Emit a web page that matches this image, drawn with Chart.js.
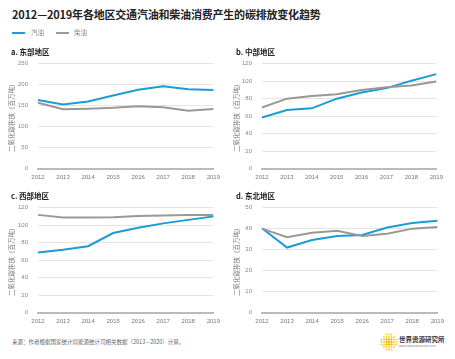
<!DOCTYPE html>
<html><head><meta charset="utf-8">
<script src="https://cdn.jsdelivr.net/npm/chart.js@4/dist/chart.umd.min.js"></script>
<style>
body{margin:0;width:455px;height:359px;background:#fff;font-family:"Noto Sans CJK SC","Noto Sans",sans-serif;position:relative;overflow:hidden}
.t{position:absolute;white-space:nowrap;color:#222}
.box{position:absolute}
</style></head><body>
<div class="box" style="left:8px;top:50px;width:217px;height:136px"><canvas id="ca"></canvas></div>
<div class="box" style="left:233px;top:50px;width:215px;height:136px"><canvas id="cb"></canvas></div>
<div class="box" style="left:8px;top:194px;width:217px;height:136px"><canvas id="cc"></canvas></div>
<div class="box" style="left:233px;top:194px;width:216px;height:136px"><canvas id="cd"></canvas></div>
<div class="t" style="left:12px;top:6px;font-size:11px;font-weight:bold;letter-spacing:-0.2px">2012—2019年各地区交通汽油和柴油消费产生的碳排放变化趋势</div>
<div class="box" style="left:12px;top:32px;width:13px;height:2px;background:#1b9bd7"></div>
<div class="t" style="left:31px;top:27px;font-size:6.5px;color:#888">汽油</div>
<div class="box" style="left:56px;top:32px;width:13px;height:1.5px;background:#999"></div>
<div class="t" style="left:74px;top:27px;font-size:6.5px;color:#888">柴油</div>
<div class="t" style="left:11px;top:46px;font-size:7.5px;font-weight:bold">a. 东部地区</div>
<div class="t" style="left:236px;top:46px;font-size:7.5px;font-weight:bold">b. 中部地区</div>
<div class="t" style="left:11px;top:190px;font-size:7.5px;font-weight:bold">c. 西部地区</div>
<div class="t" style="left:236px;top:190px;font-size:7.5px;font-weight:bold">d. 东北地区</div>
<div class="t" style="left:12px;top:338px;font-size:5.5px;color:#666">来源：作者根据国家统计局能源统计司相关数据（2013—2020）计算。</div>
<svg class="box" style="left:380px;top:333px" width="18" height="18" viewBox="0 0 18 18" id="logo"></svg>
<div class="t" style="left:399px;top:334px;font-size:6.5px;font-weight:bold;color:#333">世界资源研究所</div>
<div class="t" style="left:399px;top:344px;font-size:2.5px;color:#777">WORLD RESOURCES INSTITUTE</div>
<script>
(function(){const s=document.getElementById('logo');let h='';for(let i=0;i<7;i++)for(let j=0;j<7;j++){const x=1.5+i*2.5,y=1.5+j*2.5;const d=Math.hypot(x-9,y-9);if(d<8.6){h+=`<circle cx="${x}" cy="${y}" r="${d<4?1.15:0.95}" fill="${d<4?'#f5b800':'#f9cf3a'}"/>`;}}s.innerHTML=h;})();

const years = ['2012','2013','2014','2015','2016','2017','2018','2019'];
const eastGasoline = [163.5,153,160,174,188,196,189,187];
const eastDiesel   = [157,141.5,143,145,148.5,146,138,142];
const centralGasoline = [58.5,67,69,80,87,92,100.5,108];
const centralDiesel   = [70,80,83,85,90,93,95,99.5];
const westGasoline = [68.7,71.8,76,91,97,102,106,110];
const westDiesel   = [111.7,108.6,108.6,109,110.5,111,111.5,111.7];
const northeastGasoline = [40.2,31,34.6,36.5,37,40.5,42.7,43.8];
const northeastDiesel   = [40,35.9,38,39,36.5,37.6,40,40.8];
const yAxisTitle = '二氧化碳排放（百万吨）';

const BLUE='#1b9bd7', GREY='#9b9894';
function make(id, gas, dsl, max, step, yw){
  new Chart(document.getElementById(id),{
    type:'line',
    data:{labels:years,datasets:[
      {label:'柴油',data:dsl,borderColor:GREY,borderWidth:2,pointRadius:0,tension:0,fill:false},
      {label:'汽油',data:gas,borderColor:BLUE,borderWidth:2,pointRadius:0,tension:0,fill:false}
    ]},
    options:{responsive:true,maintainAspectRatio:false,animation:false,
      layout:{padding:{top:6,right:8,left:0,bottom:0}},
      plugins:{legend:{display:false},tooltip:{enabled:false}},
      scales:{
        x:{offset:false,grid:{display:false,drawTicks:false},border:{display:true,color:'#bbb',width:2},
           ticks:{color:'#777',font:{size:6,family:'Liberation Sans Narrow, Liberation Sans'},padding:5,maxRotation:0,autoSkip:false}},
        y:{min:0,max:max,grid:{color:'#e4e4e4',lineWidth:1,drawTicks:false},border:{display:false},
           ticks:{stepSize:step,color:'#888',font:{size:6,family:'Liberation Sans'},padding:10},
           title:{display:true,text:yAxisTitle,color:'#777',font:{size:6.5,family:'Noto Sans CJK SC'},padding:0},
           afterFit(s){s.width=yw;}}
      }}
  });
}
make('ca',eastGasoline,eastDiesel,250,50,30);
make('cb',centralGasoline,centralDiesel,120,20,29);
make('cc',westGasoline,westDiesel,120,20,30);
make('cd',northeastGasoline,northeastDiesel,50,10,29);
</script>
</body></html>
